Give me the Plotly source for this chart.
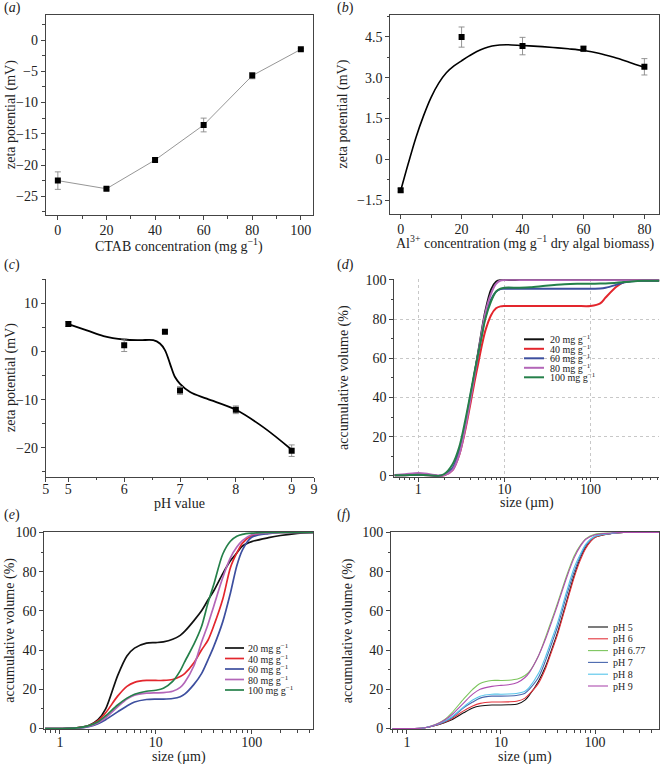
import plotly.graph_objects as go

FONT = "Liberation Serif"
W, H = 662, 764

# ---------------- data ----------------
# (a) zeta potential vs CTAB
a_conc = [0, 20, 40, 60, 80, 100]
a_zeta = [-22.5, -23.8, -19.2, -13.6, -5.7, -1.5]
a_err = [1.4, 0.2, 0.2, 1.1, 0.5, 0.15]

# (b) zeta potential vs Al3+
b_conc = [0, 20, 40, 60, 80]
b_zeta = [-1.13, 4.49, 4.16, 4.06, 3.40]
b_err = [0.06, 0.37, 0.32, 0.10, 0.30]
b_fit_x = [0, 2.5, 5, 7.5, 10, 12.5, 15, 17.5, 20, 22.5, 25, 27.5, 30, 32.5, 35, 40, 45, 50, 55, 60, 65, 70, 75, 80]
b_fit_y = [-1.15, -0.15, 0.8, 1.6, 2.28, 2.8, 3.18, 3.43, 3.62, 3.8, 3.96, 4.08, 4.16, 4.2, 4.21, 4.18, 4.15, 4.11, 4.06, 4.0, 3.9, 3.75, 3.57, 3.38]

# (c) zeta potential vs pH
c_ph = [5, 6, 6.73, 7, 8, 9]
c_zeta = [5.7, 1.3, 4.1, -8.1, -12.1, -20.6]
c_err = [0.5, 1.3, 0.3, 0.8, 0.8, 1.2]
c_fit_x = [5, 5.33, 5.63, 6.0, 6.28, 6.52, 6.64, 6.73, 6.82, 6.91, 7.0, 7.18, 7.48, 8.0, 8.49, 9.0]
c_fit_y = [5.7, 4.4, 3.2, 2.5, 2.36, 2.36, 1.67, 0.3, -2.5, -5.3, -6.7, -8.4, -9.8, -12.1, -15.7, -20.4]

# (d) size distribution, CTAB dose
d_size = [0.53, 0.7, 1, 1.3, 1.7, 2, 2.5, 3, 3.5, 4, 4.5, 5, 5.5, 6, 7, 8, 9, 10, 15, 20, 30, 50, 70, 100, 130, 150, 200, 250, 300, 400, 633]
d_20 = [0.3, 0.5, 0.8, 0.6, 0.0, 0.5, 3.5, 12, 25, 39, 52, 64, 75, 84, 95, 99, 100, 100, 100, 100, 100, 100, 100, 100, 100, 100, 100, 100, 100, 100, 100]
d_40 = [0.3, 0.4, 0.6, 0.4, 0.0, 0.3, 3, 11, 23, 36, 48, 58, 67, 74, 82, 85.5, 86.5, 86.7, 86.7, 86.7, 86.7, 86.7, 86.7, 86.7, 88, 91, 96.5, 99, 99.5, 99.5, 99.5]
d_60 = [0.3, 0.4, 0.6, 0.4, 0.0, 0.5, 4, 13, 26, 40, 52, 63, 73, 81, 90, 94, 95.3, 95.5, 95.5, 95.5, 95.5, 95.5, 95.5, 95.5, 95.6, 96, 97.5, 98.8, 99.3, 99.5, 99.5]
d_80 = [0.5, 0.9, 1.5, 1.0, 0.2, 0.3, 3, 11, 24, 38, 51, 63, 74, 83, 93, 98, 99.7, 100, 100, 100, 100, 100, 100, 100, 100, 100, 100, 100, 100, 100, 100]
d_100 = [0.3, 0.4, 0.6, 0.4, 0.0, 1, 6, 15, 28, 41, 53, 63, 72, 80, 89, 94, 95.5, 96, 96, 96.2, 97, 97.8, 98, 98, 98.1, 98.2, 98.5, 98.9, 99.2, 99.5, 99.5]

# (e) size distribution, CTAB dose (second set)
e_size = [0.7, 1, 1.5, 2, 2.5, 3, 4, 5, 6, 8, 10, 12, 15, 18, 20, 25, 30, 35, 40, 50, 60, 70, 80, 100, 150, 200, 300, 440]
e_20 = [0, 0, 0.3, 1.5, 4.5, 10, 27, 37, 41, 43.5, 43.8, 44.2, 45.5, 47.5, 49.5, 55, 60, 65.5, 70, 79, 85.5, 89.5, 93, 95.3, 97.3, 98.4, 99.5, 100]
e_40 = [0, 0, 0.3, 1.5, 4, 8, 16.5, 21.5, 23.5, 24.5, 24.5, 24.5, 25, 26.5, 28, 33.5, 40, 45, 52, 66, 82, 89.5, 94.5, 98.3, 99.6, 100, 100, 100]
e_60 = [0, 0, 0.2, 1, 2.5, 4.5, 8.5, 11.5, 13.5, 14.8, 15, 15, 15.3, 16.2, 17.5, 22.5, 28, 35, 41.5, 54.5, 69, 83, 91, 97.5, 99.4, 100, 100, 100]
e_80 = [0, 0, 0.2, 1.2, 3, 5.5, 11, 15, 17, 18, 18.2, 18.3, 19, 21, 23.5, 32, 44, 53, 62, 77, 87, 92.5, 95.8, 98.8, 99.7, 100, 100, 100]
e_100 = [0, 0, 0.3, 1.5, 3.5, 6.5, 12, 15.5, 17.5, 19, 19.5, 20.5, 24, 29.5, 34, 43, 52, 64, 73, 89, 95.5, 98, 99, 99.6, 100, 100, 100, 100]

# (f) size distribution, pH
f_size = [0.7, 1, 1.5, 2, 2.5, 3, 4, 5, 6, 8, 10, 12, 15, 18, 20, 25, 30, 35, 40, 50, 60, 70, 80, 100, 150, 200, 300, 480]
f_ph5 = [0, 0, 0.3, 1.5, 3, 4.5, 8, 10.5, 11.5, 12, 12, 12.1, 12.5, 14.5, 17, 24, 32, 41, 49, 65, 78, 87, 92.5, 97.5, 99.4, 100, 100, 100]
f_ph6 = [0, 0, 0.3, 1.5, 3.2, 5, 9, 11.5, 12.8, 13.5, 13.5, 13.6, 14, 15.5, 17.5, 23, 31, 40, 48, 64, 77, 86, 92, 97.5, 99.4, 100, 100, 100]
f_ph677 = [0, 0, 0.3, 2, 4.5, 8, 15, 20, 23, 24.5, 24.5, 24.6, 25.2, 27, 29, 37, 47, 56, 64, 78, 88, 93.5, 96.8, 99, 99.7, 100, 100, 100]
f_ph7 = [0, 0, 0.3, 1.7, 3.5, 5.5, 10.5, 13.5, 15.5, 16.5, 16.5, 16.6, 17, 18, 20, 26, 35, 44, 52, 68, 80, 88, 93.5, 98, 99.5, 100, 100, 100]
f_ph8 = [0, 0, 0.3, 1.8, 3.7, 6, 11, 14.5, 16.5, 17.5, 17.5, 17.6, 18, 19, 21, 28, 37, 46, 54, 70, 82, 89, 94, 98, 99.5, 100, 100, 100]
f_ph9 = [0, 0, 0.3, 1.9, 4.2, 7, 13, 17.5, 20, 21.5, 22, 22.3, 23.5, 26, 28.5, 37, 46, 55, 63, 77, 87, 93, 96.5, 98.8, 99.7, 100, 100, 100]

dose_labels = ["20 mg g<sup>−1</sup>", "40 mg g<sup>−1</sup>", "60 mg g<sup>−1</sup>", "80 mg g<sup>−1</sup>", "100 mg g<sup>−1</sup>"]
ph_labels = ["pH 5", "pH 6", "pH 6.77", "pH 7", "pH 8", "pH 9"]
dose_colors = ["#111111", "#e3262d", "#3d4f9f", "#b366b8", "#25804a"]
ph_colors = ["#111111", "#e3343c", "#7cc55c", "#4867ad", "#55c4ea", "#ae4db0"]

x_titles = ["CTAB concentration (mg g<sup>−1</sup>)",
            "Al<sup>3+</sup> concentration (mg g<sup>−1</sup> dry algal biomass)",
            "pH value", "size (µm)", "size (µm)", "size (µm)"]
y_titles = ["zeta potential (mV)", "zeta potential (mV)", "zeta potential (mV)",
            "accumulative volume (%)", "accumulative volume (%)", "accumulative volume (%)"]
panel_tags = ["a", "b", "c", "d", "e", "f"]

# ---------------- helpers ----------------
def dx(a, b):
    return [a / W, b / W]

def dy(top, bottom):
    return [1 - bottom / H, 1 - top / H]

def px(x):
    return x / W

def py(y):
    return 1 - y / H

tickfont = dict(family=FONT, size=14, color="#222")
titlefont = dict(family=FONT, size=14, color="#222")

def ax(**kw):
    base = dict(showline=True, linecolor="#444", linewidth=1, mirror=True,
                ticks="outside", ticklen=4, tickcolor="#444", tickwidth=1,
                showgrid=False, zeroline=False, tickfont=tickfont, automargin=False)
    base.update(kw)
    return base

fig = go.Figure()

# (a)
fig.add_trace(go.Scatter(x=a_conc, y=a_zeta, mode="lines+markers", xaxis="x", yaxis="y",
                         line=dict(color="#8a8a8a", width=0.9),
                         marker=dict(symbol="square", size=6, color="black"),
                         error_y=dict(type="data", array=a_err, color="#888", thickness=0.9, width=3),
                         showlegend=False))
# (b)
fig.add_trace(go.Scatter(x=b_fit_x, y=b_fit_y, mode="lines", xaxis="x2", yaxis="y2",
                         line=dict(color="black", width=1.6, shape="spline"), showlegend=False))
fig.add_trace(go.Scatter(x=b_conc, y=b_zeta, mode="markers", xaxis="x2", yaxis="y2",
                         marker=dict(symbol="square", size=6, color="black"),
                         error_y=dict(type="data", array=b_err, color="#888", thickness=0.9, width=3),
                         showlegend=False))
# (c)
fig.add_trace(go.Scatter(x=c_fit_x, y=c_fit_y, mode="lines", xaxis="x3", yaxis="y3",
                         line=dict(color="black", width=1.8, shape="spline"), showlegend=False))
fig.add_trace(go.Scatter(x=c_ph, y=c_zeta, mode="markers", xaxis="x3", yaxis="y3",
                         marker=dict(symbol="square", size=6, color="black"),
                         error_y=dict(type="data", array=c_err, color="#888", thickness=0.9, width=3),
                         showlegend=False))
# (d)
for ys, col in zip([d_20, d_40, d_60, d_80, d_100], dose_colors):
    fig.add_trace(go.Scatter(x=d_size, y=ys, mode="lines", xaxis="x4", yaxis="y4",
                             line=dict(color=col, width=2, shape="spline", smoothing=0.8),
                             showlegend=False))
# (e)
for ys, col in zip([e_20, e_40, e_60, e_80, e_100], dose_colors):
    fig.add_trace(go.Scatter(x=e_size, y=ys, mode="lines", xaxis="x5", yaxis="y5",
                             line=dict(color=col, width=1.7, shape="spline", smoothing=0.8),
                             showlegend=False))
# (f)
for ys, col in zip([f_ph5, f_ph6, f_ph677, f_ph7, f_ph8, f_ph9], ph_colors):
    fig.add_trace(go.Scatter(x=f_size, y=ys, mode="lines", xaxis="x6", yaxis="y6",
                             line=dict(color=col, width=1.1, shape="spline", smoothing=0.8),
                             showlegend=False))

log_minor = [v * m for m in (0.1, 1, 10, 100) for v in range(2, 10)]
mn = dict(ticks="outside", ticklen=2.5, tickcolor="#444")
mn_in = dict(ticks="inside", ticklen=2.5, tickcolor="#444")

# plot boxes in pixels: (left, right, top, bottom)
B = [(45.7, 313, 15, 215), (390.3, 659, 15, 214),
     (45.7, 314, 279.3, 476.7), (394.3, 659.3, 279.3, 476.7),
     (44.3, 313.3, 532, 729.3), (391, 659.3, 532, 729.3)]

layout = dict(
    template="none",
    width=W, height=H, margin=dict(l=0, r=0, t=0, b=0, autoexpand=False),
    paper_bgcolor="white", plot_bgcolor="white", showlegend=False,
    font=dict(family=FONT, size=14, color="#222"),
    # (a)
    xaxis=ax(domain=dx(B[0][0], B[0][1]), anchor="y", range=[-5, 105], tickvals=[0, 20, 40, 60, 80, 100],
             ticklabelstandoff=-2, minor=dict(dtick=10, tick0=0, **mn)),
    yaxis=ax(domain=dy(B[0][2], B[0][3]), anchor="x", range=[-28, 4], tickvals=[-25, -20, -15, -10, -5, 0],
             minor=dict(dtick=2.5, tick0=0, **mn)),
    # (b)
    xaxis2=ax(domain=dx(B[1][0], B[1][1]), anchor="y2", range=[-3.4, 84.8], tickvals=[0, 20, 40, 60, 80],
              ticklabelstandoff=-2, minor=dict(dtick=10, tick0=0, **mn)),
    yaxis2=ax(domain=dy(B[1][2], B[1][3]), anchor="x2", range=[-2, 5.3], tickvals=[-1.5, 0, 1.5, 3, 4.5],
              ticktext=["−1.5", "0", "1.5", "3.0", "4.5"],
              minor=dict(dtick=0.75, tick0=0, **mn)),
    # (c)
    xaxis3=ax(domain=dx(B[2][0], B[2][1]), anchor="y3", range=[4.594, 9.4], mirror=False,
              tickvals=[4.594, 5, 6, 7, 8, 9, 9.4], ticktext=["5", "5", "6", "7", "8", "9", "9"],
              ticklabelstandoff=-5, minor=dict(dtick=0.5, tick0=0, **mn)),
    yaxis3=ax(domain=dy(B[2][2], B[2][3]), anchor="x3", range=[-26, 15], tickvals=[-20, -10, 0, 10], mirror=False,
              minor=dict(dtick=5, tick0=0, **mn)),
    xaxis7=ax(domain=dx(B[2][0], B[2][1]), anchor="y3", overlaying="x3", side="top", range=[4.594, 9.4],
              mirror=False, ticks="inside", tickvals=[5, 6, 7, 8, 9], showticklabels=False,
              minor=dict(dtick=0.5, tick0=0, **mn_in)),
    yaxis7=ax(domain=dy(B[2][2], B[2][3]), anchor="x3", overlaying="y3", side="right", range=[-26, 15],
              mirror=False, ticks="inside", tickvals=[-20, -10, 0, 10], showticklabels=False,
              minor=dict(dtick=5, tick0=0, **mn_in)),
    # (d)
    xaxis4=ax(domain=dx(B[3][0], B[3][1]), anchor="y4", type="log", range=[-0.279, 2.80], mirror=False,
              tickvals=[1, 10, 100], ticktext=["1", "10", "100"], ticklabelstandoff=-5,
              showgrid=True, gridcolor="#c8c8c8", griddash="dot", gridwidth=1,
              minor=dict(tickvals=log_minor, showgrid=False, **mn)),
    yaxis4=ax(domain=dy(B[3][2], B[3][3]), anchor="x4", range=[-0.4, 100.3], tickvals=[0, 20, 40, 60, 80, 100],
              mirror=False, showgrid=True, gridcolor="#c8c8c8", griddash="dot", gridwidth=1,
              minor=dict(dtick=10, tick0=0, showgrid=False, **mn)),
    xaxis8=ax(domain=dx(B[3][0], B[3][1]), anchor="y4", overlaying="x4", side="top", type="log", range=[-0.279, 2.80],
              mirror=False, ticks="inside", tickvals=[1, 10, 100], showticklabels=False,
              minor=dict(tickvals=log_minor, **mn_in)),
    yaxis8=ax(domain=dy(B[3][2], B[3][3]), anchor="x4", overlaying="y4", side="right", range=[-0.4, 100.3],
              mirror=False, ticks="inside", tickvals=[0, 20, 40, 60, 80, 100], showticklabels=False,
              minor=dict(dtick=10, tick0=0, **mn_in)),
    # (e)
    xaxis5=ax(domain=dx(B[4][0], B[4][1]), anchor="y5", type="log", range=[-0.163, 2.643],
              tickvals=[1, 10, 100], ticktext=["1", "10", "100"], ticklabelstandoff=-4,
              minor=dict(tickvals=log_minor, **mn)),
    yaxis5=ax(domain=dy(B[4][2], B[4][3]), anchor="x5", range=[-0.4, 100.2], tickvals=[0, 20, 40, 60, 80, 100],
              minor=dict(dtick=10, tick0=0, **mn)),
    # (f)
    xaxis6=ax(domain=dx(B[5][0], B[5][1]), anchor="y6", type="log", range=[-0.17, 2.684],
              tickvals=[1, 10, 100], ticktext=["1", "10", "100"], ticklabelstandoff=-4,
              minor=dict(tickvals=log_minor, **mn)),
    yaxis6=ax(domain=dy(B[5][2], B[5][3]), anchor="x6", range=[-0.4, 100.2], tickvals=[0, 20, 40, 60, 80, 100],
              minor=dict(dtick=10, tick0=0, **mn)),
)
fig.update_layout(**layout)

# axis titles (annotations for exact positioning)
x_title_y = [245, 242.5, 503, 503, 757, 757]
y_title_x = [11, 342, 11, 344, 10, 347.5]
for i in range(6):
    l, r, t, b = B[i]
    fig.add_annotation(text=x_titles[i], x=px((l + r) / 2), y=py(x_title_y[i]), xref="paper", yref="paper",
                       xanchor="center", yanchor="middle", showarrow=False, font=titlefont)
    fig.add_annotation(text=y_titles[i], x=px(y_title_x[i]), y=py((t + b) / 2), xref="paper", yref="paper",
                       xanchor="center", yanchor="middle", textangle=-90, showarrow=False, font=titlefont)

# panel labels
for lab, x0, y0 in zip(panel_tags, [2, 335, 2, 335, 2, 335], [8, 8, 265, 265, 515, 515]):
    fig.add_annotation(text=f"(<i>{lab}</i>)", x=px(x0), y=py(y0), xref="paper", yref="paper",
                       xanchor="left", yanchor="middle", showarrow=False,
                       font=dict(family=FONT, size=14, color="#222"))

# compact legends
def legend(labels, colors, x_key0, x_key1, x_text, y_first, step, width, fsize=10):
    for i, (lab, col) in enumerate(zip(labels, colors)):
        yy = y_first + i * step
        fig.add_shape(type="line", xref="paper", yref="paper", x0=px(x_key0), x1=px(x_key1),
                      y0=py(yy), y1=py(yy), line=dict(color=col, width=width))
        fig.add_annotation(text=lab, x=px(x_text), y=py(yy), xref="paper", yref="paper",
                           xanchor="left", yanchor="middle", showarrow=False,
                           font=dict(family=FONT, size=fsize, color="#222"))

legend(dose_labels, dose_colors, 524, 544, 548, 339.3, 9.5, 2)
legend(dose_labels, dose_colors, 225, 244, 246, 648, 10.5, 1.7)
legend(ph_labels, ph_colors, 588, 608, 611, 627, 11.8, 1.1)

fig.write_html("out.html", config={"displayModeBar": False},
               post_script="document.body.style.margin='0';document.body.style.padding='0';")
